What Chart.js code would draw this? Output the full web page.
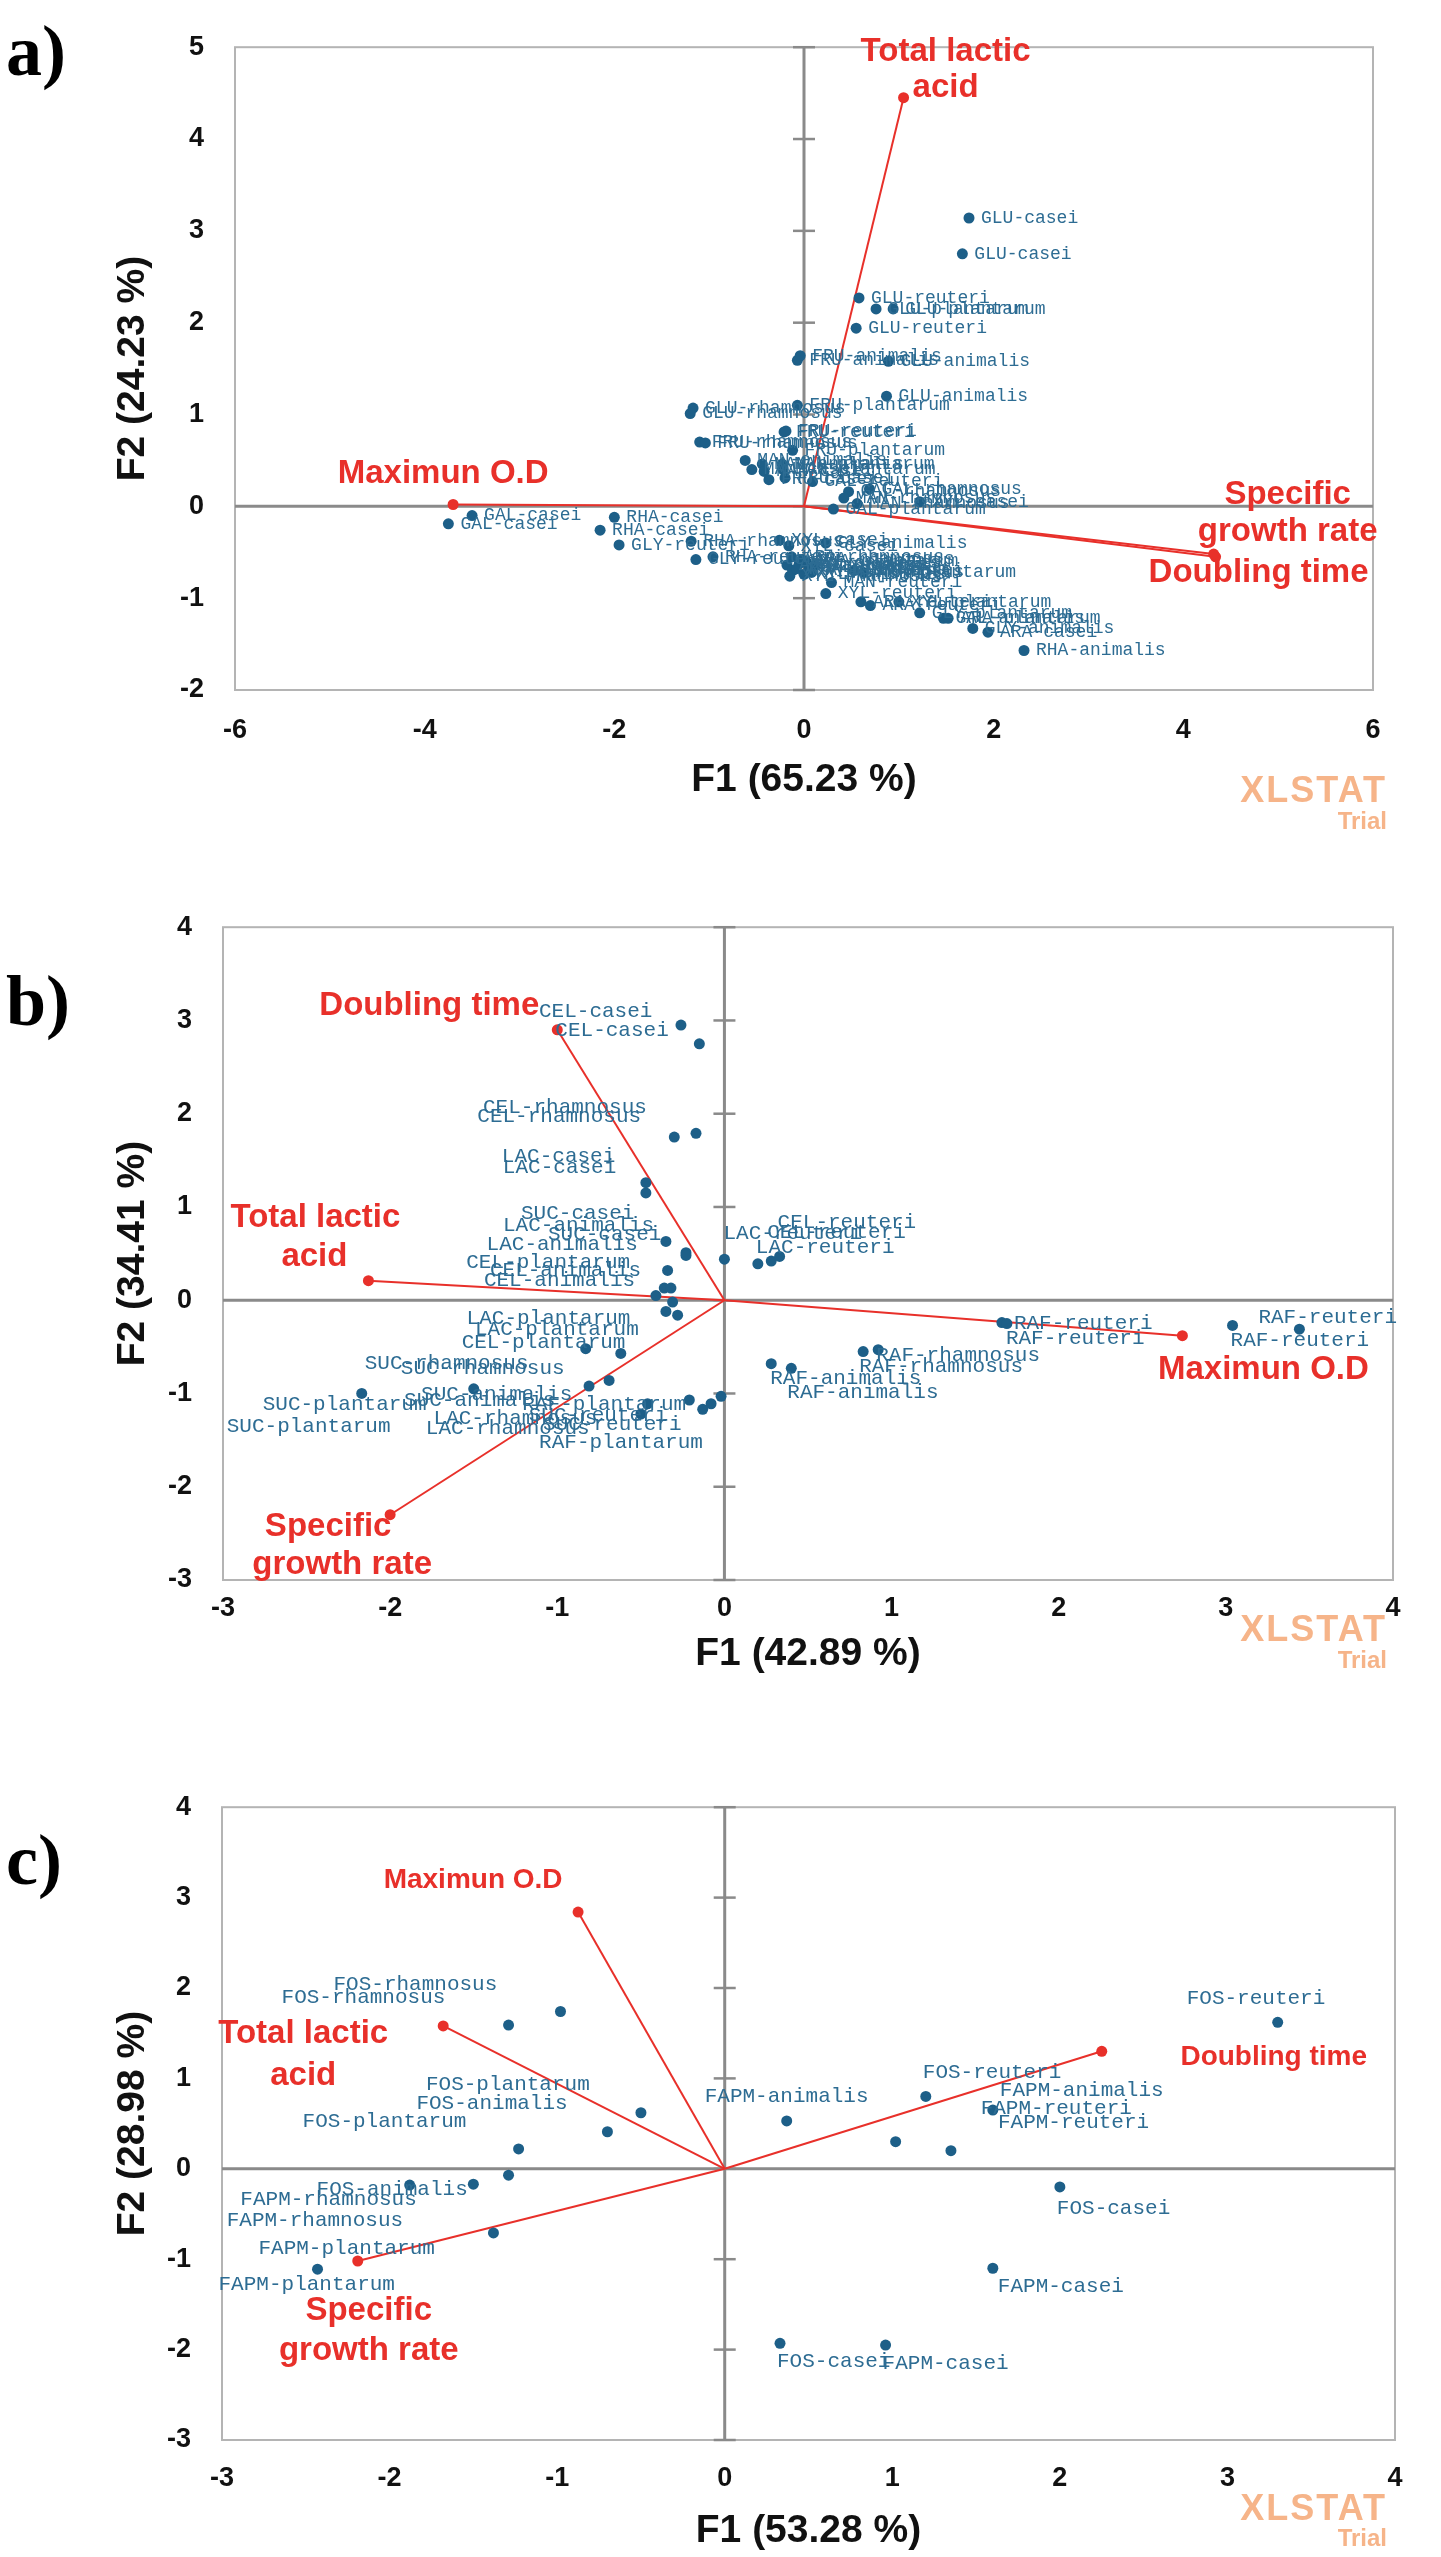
<!doctype html>
<html lang="en">
<head>
  <meta charset="utf-8" />
  <title>PCA biplots</title>
  <style>
    body { margin: 0; background: #fff; }
    #page { position: relative; width: 1441px; height: 2557px; overflow: hidden; }
    .panel { position: absolute; left: 0; width: 1441px; }
    .tag { position: absolute; left: 6px; font: bold 72px 'Liberation Serif', 'Times New Roman', serif; line-height: 72px; color: #000; }
    .wm { position: absolute; right: 54px; color: #f6b489; font-family: 'Liberation Sans', Arial, sans-serif; font-weight: bold; line-height: 1; }
    .wm.xl { font-size: 36px; letter-spacing: 2px; }
    .wm.tr { font-size: 24px; }
  </style>
</head>
<body>
<div id="page">
  <div class="panel" style="top:0;height:840px"><canvas id="chartA"></canvas></div>
  <div class="panel" style="top:880px;height:820px"><canvas id="chartB"></canvas></div>
  <div class="panel" style="top:1760px;height:797px"><canvas id="chartC"></canvas></div>

  <div class="tag" style="top:15px">a)</div>
  <div class="tag" style="top:965px">b)</div>
  <div class="tag" style="top:1824px">c)</div>

  <div class="wm xl" style="top:772px">XLSTAT</div>
  <div class="wm tr" style="top:809px">Trial</div>
  <div class="wm xl" style="top:1611px">XLSTAT</div>
  <div class="wm tr" style="top:1648px">Trial</div>
  <div class="wm xl" style="top:2490px">XLSTAT</div>
  <div class="wm tr" style="top:2526px">Trial</div>
</div>

<script src="https://cdn.jsdelivr.net/npm/chart.js"></script>
<script>
  // ---------- a) ----------
  const obsA = ['GLU-casei','GLU-casei','GLU-reuteri','GLU-plantarum','GLU-plantarum','GLU-reuteri',
    'FRU-animalis','FRU-animalis','GLU-animalis','GLU-animalis','GLU-rhamnosus','GLU-rhamnosus',
    'FRU-plantarum','FRU-reuteri','FRU-reuteri','FRU-rhamnosus','FRU-rhamnosus','FRU-plantarum',
    'MAN-animalis','MAN-animalis','MAN-casei','MAN-casei','MAN-plantarum','MAN-plantarum',
    'FRU-casei','FRU-casei','GAL-reuteri','GAL-rhamnosus','GAL-rhamnosus','MAN-rhamnosus',
    'MAN-rhamnosus','XYL-casei','GAL-plantarum','GAL-casei','GAL-casei','RHA-casei','RHA-casei',
    'GLY-reuteri','GLY-reuteri','RHA-reuteri','RHA-rhamnosus','XYL-casei','XYL-casei','GLY-animalis',
    'ARA-rhamnosus','ARA-rhamnosus','ARA-animalis','ARA-animalis','XYL-animalis','XYL-animalis',
    'GAL-reuteri','XYL-rhamnosus','XYL-rhamnosus','RHA-plantarum','RHA-plantarum','GLY-casei',
    'GLY-casei','ARA-plantarum','MAN-reuteri','XYL-reuteri','ARA-reuteri','ARA-reuteri',
    'XYL-plantarum','GLY-plantarum','GAL-animalis','ARA-plantarum','GLY-animalis','ARA-casei','RHA-animalis'];
  const f1A = [1.74,1.67,0.58,0.76,0.94,0.55,
    -0.04,-0.07,0.89,0.87,-1.17,-1.20,
    -0.07,-0.21,-0.19,-1.10,-1.04,-0.12,
    -0.62,-0.44,-0.55,-0.42,-0.23,-0.22,
    -0.20,-0.37,0.09,0.69,0.47,0.42,
    0.56,1.22,0.31,-3.50,-3.75,-2.00,-2.15,
    -1.95,-1.14,-0.96,-1.19,-0.26,-0.16,0.23,
    -0.13,-0.02,-0.18,-0.12,-0.05,0.00,
    0.05,-0.15,0.08,-0.08,0.02,0.12,
    0.53,0.63,0.29,0.23,0.60,0.70,
    1.00,1.22,1.47,1.52,1.78,1.94,2.32];
  const f2A = [3.14,2.75,2.27,2.15,2.15,1.94,
    1.64,1.59,1.58,1.20,1.07,1.01,
    1.10,0.81,0.82,0.70,0.69,0.61,
    0.50,0.46,0.40,0.38,0.46,0.40,
    0.31,0.29,0.27,0.19,0.16,0.09,
    0.03,0.05,-0.03,-0.10,-0.19,-0.12,-0.26,
    -0.42,-0.58,-0.55,-0.38,-0.37,-0.43,-0.40,
    -0.55,-0.58,-0.64,-0.70,-0.62,-0.74,
    -0.66,-0.76,-0.72,-0.68,-0.60,-0.64,
    -0.70,-0.72,-0.83,-0.95,-1.04,-1.08,
    -1.04,-1.16,-1.22,-1.22,-1.33,-1.37,-1.57];
  const varsA = [['Total lactic','acid'], ['Maximun O.D'], ['Specific','growth rate'], ['Doubling time']];
  const varF1A = [1.05, -3.70, 4.32, 4.34];
  const varF2A = [4.45, 0.02, -0.52, -0.55];
  const varOffA = [[[42,-46],[42,-10]], [[-10,-31]], [[74,-59],[74,-22]], [[43,16]]];
  const varSizeA = [33, 33, 33, 33];

  // ---------- b) ----------
  const obsB = ['CEL-casei','CEL-casei','CEL-rhamnosus','CEL-rhamnosus','LAC-casei','LAC-casei',
    'SUC-casei','SUC-casei','LAC-animalis','LAC-animalis','CEL-plantarum','CEL-animalis','CEL-animalis',
    'LAC-plantarum','LAC-plantarum','CEL-plantarum','SUC-rhamnosus','SUC-rhamnosus','SUC-animalis',
    'SUC-animalis','SUC-plantarum','SUC-plantarum','LAC-rhamnosus','LAC-rhamnosus','RAF-plantarum',
    'SUC-reuteri','SUC-reuteri','RAF-plantarum','LAC-reuteri','LAC-reuteri','CEL-reuteri','CEL-reuteri',
    'RAF-reuteri','RAF-reuteri','RAF-reuteri','RAF-reuteri','RAF-rhamnosus','RAF-rhamnosus',
    'RAF-animalis','RAF-animalis'];
  const f1B = [-0.26,-0.15,-0.30,-0.17,-0.47,-0.47,
    -0.35,-0.23,-0.23,-0.34,-0.36,-0.32,-0.41,
    -0.31,-0.35,-0.28,-0.83,-0.62,-0.69,
    -0.81,-1.50,-2.17,-0.46,-0.50,-0.21,
    -0.13,-0.08,-0.02,0.00,0.20,0.28,0.33,
    1.66,1.69,3.04,3.44,0.83,0.92,
    0.28,0.40];
  const f2B = [2.95,2.75,1.75,1.79,1.26,1.15,
    0.63,0.51,0.48,0.32,0.13,0.13,0.05,
    -0.02,-0.12,-0.16,-0.52,-0.57,-0.86,
    -0.92,-0.95,-1.00,-1.11,-1.22,-1.07,
    -1.17,-1.11,-1.03,0.44,0.39,0.42,0.47,
    -0.24,-0.25,-0.27,-0.31,-0.55,-0.53,
    -0.68,-0.73];
  const obsOffB = [[-142,-14],[-144,-13],[-197,-21],[-213,-26],[-144,-26],[-143,-26],
    [-118,-7],[-165,-39],[-183,-30],[-181,-26],[-198,-26],[-181,-18],[-172,-15],
    [-206,16],[-191,18],[-216,27],[-221,15],[-220,15],[-188,14],
    [-185,14],[-211,16],[-135,33],[-214,15],[-215,14],[-167,4],
    [-174,6],[-168,21],[-182,46],[-1,-26],[-2,-16],[-4,-29],[-2,-34],
    [12,1],[-1,15],[-2,15],[-41,-12],[-4,15],[-2,6],
    [-1,15],[-4,24]];
  const varsB = [['Doubling time'], ['Total lactic','acid'], ['Specific','growth rate'], ['Maximun O.D']];
  const varF1B = [-1.00, -2.13, -2.00, 2.74];
  const varF2B = [2.90, 0.21, -2.30, -0.38];
  const varOffB = [[[-128,-24]], [[-53,-63],[-54,-24]], [[-62,12],[-48,50]], [[81,34]]];
  const varSizeB = [33, 33, 33, 33];

  // ---------- c) ----------
  const obsC = ['FOS-rhamnosus','FOS-rhamnosus','FOS-plantarum','FOS-animalis','FOS-plantarum',
    'FOS-animalis','FAPM-rhamnosus','FAPM-rhamnosus','FAPM-plantarum','FAPM-plantarum',
    'FAPM-animalis','FOS-reuteri','FAPM-animalis','FAPM-reuteri','FAPM-reuteri','FOS-reuteri',
    'FOS-casei','FAPM-casei','FOS-casei','FAPM-casei'];
  const f1C = [-0.98,-1.29,-0.50,-0.70,-1.23,
    -1.29,-1.50,-1.88,-1.38,-2.43,
    0.37,1.20,1.60,1.02,1.35,3.30,
    2.00,1.60,0.33,0.96];
  const f2C = [1.74,1.59,0.62,0.41,0.22,
    -0.07,-0.17,-0.18,-0.71,-1.11,
    0.53,0.80,0.65,0.30,0.20,1.62,
    -0.20,-1.10,-1.93,-1.95];
  const obsOffC = [[-227,-27],[-227,-28],[-215,-28],[-191,-28],[-216,-27],
    [-192,14],[-233,15],[-183,35],[-235,15],[-99,15],
    [-82,-24],[-3,-24],[7,-20],[85,-33],[47,-28],[-91,-24],
    [-3,22],[5,18],[-3,18],[-3,18]];
  const varsC = [['Maximun O.D'], ['Total lactic','acid'], ['Specific','growth rate'], ['Doubling time']];
  const varF1C = [-0.875, -1.68, -2.19, 2.25];
  const varF2C = [2.84, 1.58, -1.02, 1.30];
  const varOffC = [[[-105,-32]], [[-140,8],[-140,50]], [[11,50],[11,90]], [[172,6]]];
  const varSizeC = [28, 33, 33, 28];

  const BLUE = '#1d5f88', LABEL_BLUE = '#2d6c93', RED = '#e8302a';
  const SANS = "'Liberation Sans', Arial, sans-serif";

  function biplot(id, p) {
    const datasets = [{
      data: p.f1.map((x, i) => ({ x: x, y: p.f2[i] })),
      pointRadius: 5.5, pointBackgroundColor: BLUE, pointBorderColor: BLUE, pointBorderWidth: 0
    }];
    p.varF1.forEach((vx, k) => datasets.push({
      data: [{ x: 0, y: 0 }, { x: vx, y: p.varF2[k] }],
      showLine: true, borderColor: RED, borderWidth: 2,
      pointRadius: [0, 5.5], pointBackgroundColor: RED, pointBorderColor: RED, pointBorderWidth: 0
    }));

    // frame, zero axes and their crosses
    const frame = {
      id: 'frame',
      beforeDatasetsDraw(chart) {
        const { ctx, chartArea: a, scales: { x, y } } = chart;
        const line = (x1, y1, x2, y2) => { ctx.beginPath(); ctx.moveTo(x1, y1); ctx.lineTo(x2, y2); ctx.stroke(); };
        ctx.save();
        ctx.strokeStyle = '#b4b4b4'; ctx.lineWidth = 2;
        ctx.strokeRect(a.left, a.top, a.right - a.left, a.bottom - a.top);
        const x0 = x.getPixelForValue(0), y0 = y.getPixelForValue(0);
        ctx.strokeStyle = '#8a8a8a'; ctx.lineWidth = 3;
        line(x0, a.top, x0, a.bottom);
        line(a.left, y0, a.right, y0);
        ctx.lineWidth = 2.5;
        y.ticks.forEach(t => { const py = y.getPixelForValue(t.value); line(x0 - 11, py, x0 + 11, py); });
        ctx.restore();
      }
    };

    const labels = {
      id: 'labels',
      afterDatasetsDraw(chart) {
        const ctx = chart.ctx;
        ctx.save();
        ctx.textBaseline = 'middle';
        ctx.textAlign = 'left';
        ctx.font = p.obsSize + "px 'Liberation Mono', 'Courier New', monospace";
        ctx.fillStyle = LABEL_BLUE;
        chart.getDatasetMeta(0).data.forEach((pt, i) => {
          const o = p.obsOff ? p.obsOff[i] : [12, 0];
          ctx.fillText(p.obs[i], pt.x + o[0], pt.y + o[1]);
        });
        ctx.textAlign = 'center';
        ctx.fillStyle = RED;
        p.vars.forEach((lines, k) => {
          const end = chart.getDatasetMeta(k + 1).data[1];
          ctx.font = 'bold ' + p.varSize[k] + 'px ' + SANS;
          lines.forEach((txt, j) => ctx.fillText(txt, end.x + p.varOff[k][j][0], end.y + p.varOff[k][j][1]));
        });
        ctx.restore();
      }
    };

    const tickFont = { family: p.tickFamily, size: 27, weight: 'bold' };
    const titleFont = { family: SANS, size: 39, weight: 'bold' };

    return new Chart(document.getElementById(id), {
      type: 'scatter',
      data: { datasets: datasets },
      options: {
        responsive: true,
        maintainAspectRatio: false,
        animation: false,
        events: [],
        layout: { padding: { top: p.padTop, right: p.padRight, left: 0, bottom: 0 } },
        plugins: { legend: { display: false }, tooltip: { enabled: false } },
        scales: {
          x: {
            type: 'linear', min: p.xMin, max: p.xMax,
            ticks: { stepSize: p.xStep, font: tickFont, color: '#111', padding: p.xTickPad, autoSkip: false, maxRotation: 0 },
            grid: { display: false, drawTicks: false }, border: { display: false },
            title: { display: true, text: p.xTitle, font: titleFont, color: '#111', padding: { top: 0, bottom: p.xTitlePad } },
            afterFit(s) { s.height = p.xAxisH; }
          },
          y: {
            type: 'linear', min: p.yMin, max: p.yMax,
            ticks: { stepSize: 1, font: tickFont, color: '#111', padding: 31, autoSkip: false },
            grid: { display: false, drawTicks: false }, border: { display: false },
            title: { display: true, text: p.yTitle, font: titleFont, color: '#111', padding: { top: 110, bottom: 0 } },
            afterFit(s) { s.width = p.yAxisW; }
          }
        }
      },
      plugins: [frame, labels]
    });
  }

  biplot('chartA', {
    obs: obsA, f1: f1A, f2: f2A, obsOff: null, obsSize: 18,
    vars: varsA, varF1: varF1A, varF2: varF2A, varOff: varOffA, varSize: varSizeA,
    xMin: -6, xMax: 6, xStep: 2, yMin: -2, yMax: 5,
    xTitle: 'F1 (65.23 %)', yTitle: 'F2 (24.23 %)',
    tickFamily: "'Liberation Sans Narrow', 'Liberation Sans', Arial, sans-serif",
    padTop: 23, padRight: 68, yAxisW: 235, xAxisH: 150, xTickPad: 24, xTitlePad: 36
  });

  biplot('chartB', {
    obs: obsB, f1: f1B, f2: f2B, obsOff: obsOffB, obsSize: 21,
    vars: varsB, varF1: varF1B, varF2: varF2B, varOff: varOffB, varSize: varSizeB,
    xMin: -3, xMax: 4, xStep: 1, yMin: -3, yMax: 4,
    xTitle: 'F1 (42.89 %)', yTitle: 'F2 (34.41 %)',
    tickFamily: SANS,
    padTop: 35, padRight: 48, yAxisW: 223, xAxisH: 120, xTickPad: 12, xTitlePad: 22
  });

  biplot('chartC', {
    obs: obsC, f1: f1C, f2: f2C, obsOff: obsOffC, obsSize: 21,
    vars: varsC, varF1: varF1C, varF2: varF2C, varOff: varOffC, varSize: varSizeC,
    xMin: -3, xMax: 4, xStep: 1, yMin: -3, yMax: 4,
    xTitle: 'F1 (53.28 %)', yTitle: 'F2 (28.98 %)',
    tickFamily: SANS,
    padTop: 40, padRight: 46, yAxisW: 222, xAxisH: 117, xTickPad: 22, xTitlePad: 2
  });
</script>
</body>
</html>
